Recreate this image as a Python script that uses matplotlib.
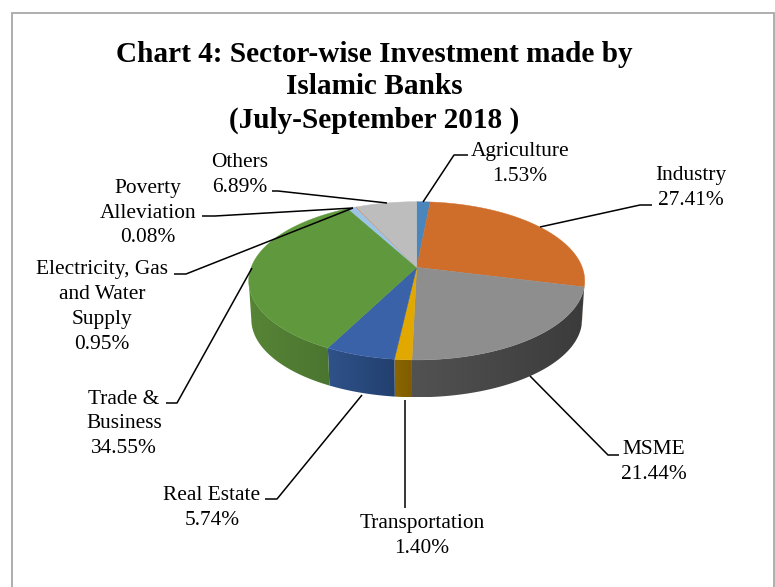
import numpy as np
import matplotlib
matplotlib.use("Agg")
import matplotlib.pyplot as plt
from matplotlib.colors import to_rgb
from matplotlib.patches import Polygon, Rectangle

labels = ["Agriculture\n1.53%", "Industry\n27.41%", "MSME\n21.44%", "Transportation\n1.40%",
          "Real Estate\n5.74%", "Trade &\nBusiness\n34.55%",
          "Electricity, Gas\nand Water\nSupply\n0.95%", "Poverty\nAlleviation\n0.08%", "Others\n6.89%"]
values = [1.53, 27.41, 21.44, 1.40, 5.74, 34.55, 0.95, 0.08, 6.89]
top_colors = ["#4a86bc", "#cf6d2a", "#8e8e8e", "#e0a800", "#3a62a8", "#60993d", "#9dc3e6", "#d98a4a", "#bdbdbd"]
wall_right = ["#2f5578", "#7f431a", "#3b3b3b", "#7f5c00", "#22406f", "#4a7530", "#5f7f9f", "#80502a", "#777777"]
wall_left = ["#2f5578", "#7f431a", "#525252", "#8c6600", "#2f5289", "#578536", "#5f7f9f", "#80502a", "#777777"]
label_pos = [(520, 164), (691, 188), (654, 462), (422, 536), (212, 508), (124, 424), (102, 307), (148, 213), (240, 175)]
leaders = [[(423, 202), (454, 155), (468, 155)], [(540, 227), (640, 205), (652, 205)],
           [(530, 376), (608, 455), (619, 455)], [(404.5, 400), (404.5, 508)],
           [(362, 395), (277, 499), (265, 499)], [(252, 268), (177, 403), (166, 403)],
           [(353, 208), (186, 274), (174, 274)], [(353, 208), (215, 216), (202, 216)],
           [(387, 203), (278, 191), (272, 191)]]
title_lines = ["Chart 4: Sector-wise Investment made by", "Islamic Banks", "(July-September 2018 )"]

W, H = 775, 587
CX, CY = 416.7, 267.3
A, B, K = 165.5, 76.8, 0.171
DEPTH, SHRINK = 39, 0.985


def rim(theta, r=1.0, dy=0.0):
    """Perspective projection of a point on the pie circle (theta clockwise from top)."""
    x, y = r * np.sin(theta), r * np.cos(theta)
    w = 1 + K * y
    return CX + A * x / w, CY - B * y / w + dy


plt.rcParams["font.family"] = ["Liberation Serif", "DejaVu Serif"]
fig = plt.figure(figsize=(W / 100, H / 100), dpi=100)
ax = fig.add_axes([0, 0, 1, 1])
ax.axis("off")

ax.add_patch(Rectangle((11.5, 12.5), 762.5, H + 20, fc="white", ec="#a8a8a8", lw=1.3, zorder=0))

edges = np.radians(np.concatenate([[0], np.cumsum(values)]) * 3.6)

# side wall: only the near part of the rim, with a left-to-right gradient per slice
near = np.pi - np.arcsin(np.sqrt(1 - K * K))
for i in range(len(values)):
    a0, a1 = max(edges[i], near), min(edges[i + 1], 2 * np.pi - near)
    if a1 <= a0:
        continue
    t = np.linspace(a0, a1, 80)
    x1, y1 = rim(t)
    x2, y2 = rim(t, SHRINK, DEPTH)
    poly = Polygon(list(zip(x1, y1)) + list(zip(x2, y2))[::-1], fc="none", ec="none", transform=ax.transData)
    ax.add_patch(poly)
    lo = min(x1.min(), x2.min())
    hi = max(x1.max(), x2.max())
    f = np.linspace(0, 1, 200)[None, :, None]
    img = np.array(to_rgb(wall_left[i]))[None, None, :] * (1 - f) + np.array(to_rgb(wall_right[i]))[None, None, :] * f
    im = ax.imshow(img, extent=(lo, hi, max(y1.max(), y2.max()), min(y1.min(), y2.min())),
                   aspect="auto", zorder=2, interpolation="bilinear")
    im.set_clip_path(poly)

# top face
for i in range(len(values)):
    t = np.linspace(edges[i], edges[i + 1], max(3, int((edges[i + 1] - edges[i]) * 80)))
    xs, ys = rim(t)
    pts = [(CX, CY)] + list(zip(xs, ys))
    ax.add_patch(Polygon(pts, fc=top_colors[i], ec=top_colors[i], lw=0.3, zorder=3))

for pts in leaders:
    ax.plot(*zip(*pts), color="black", lw=1.1, zorder=4, solid_capstyle="butt")

for s, p in zip(labels, label_pos):
    ax.text(p[0], p[1], s, ha="center", va="center", fontsize=15.4, linespacing=1.41, color="black", zorder=5)

for s, y in zip(title_lines, [54, 87, 120]):
    ax.text(374, y, s, ha="center", va="center", fontsize=21.1, fontweight="bold", color="black", zorder=5)

ax.set_xlim(0, W)
ax.set_ylim(H, 0)
fig.savefig("out.png", dpi=100)
